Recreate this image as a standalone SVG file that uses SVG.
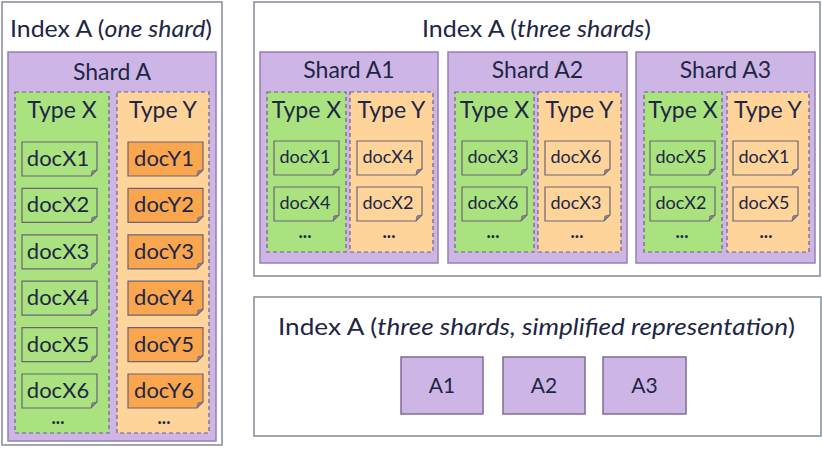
<svg xmlns="http://www.w3.org/2000/svg" xmlns:xlink="http://www.w3.org/1999/xlink" width="822" height="451" viewBox="0 0 822 451">
<style>
.bg{fill:#ffffff}
.panel{fill:#ffffff;stroke:#858a98;stroke-width:1.5}
.shard{fill:#cdb6e6;stroke:#9580b2;stroke-width:1.5}
.colx{fill:#a9e27f;stroke:#6f5f86;stroke-width:1.2;stroke-dasharray:4 3}
.coly{fill:#ffd49a;stroke:#6f5f86;stroke-width:1.2;stroke-dasharray:4 3}
.dg{fill:#a9e27f;stroke:#6b6478;stroke-width:1.2}
.do{fill:#f9a64f;stroke:#6b6478;stroke-width:1.2}
.dl{fill:#ffd49a;stroke:#6b6478;stroke-width:1.2}
.fold{fill:#8d8497;stroke:#6b6478;stroke-width:0.8}
.box{fill:#cdb6e6;stroke:#7e6c98;stroke-width:1.5}
text{font-family:Lato,"Open Sans","DejaVu Sans",sans-serif;fill:#1e2645;text-anchor:middle}
.t{font-size:23px}
.s{font-size:23px}
.ty{font-size:23px}
.dtl{font-size:22px}
.dts{font-size:18px}
.bx{font-size:21px}
.dots{font-size:18px;font-weight:bold}
.it{font-style:italic}
</style>
<defs>
<path id="docL" d="M0,0 H75 V28 L69,34 H0 Z"/>
<path id="foldL" d="M69,34 L70,29 L75,28 Z"/>
<path id="docS" d="M0,0 H65 V28 L59,34 H0 Z"/>
<path id="foldS" d="M59,34 L60,29 L65,28 Z"/>
</defs>
<rect class="bg" x="0" y="0" width="822" height="451"/>

<g id="connectors"></g>

<!-- Left panel: one shard -->
<g id="indexA-one">
<rect class="panel" x="2" y="2" width="220" height="443"/>
<text class="t" x="111" y="37" textLength="202" lengthAdjust="spacingAndGlyphs">Index A (<tspan class="it">one shard</tspan>)</text>
</g>
<g id="shardA">
<rect class="shard" x="8" y="52" width="208" height="389"/>
<text class="s" x="112" y="80">Shard A</text>
</g>
<g id="shardA-typeX">
<rect class="colx" x="15" y="92" width="94" height="341"/>
<text class="ty" x="62" y="118">Type X</text>
<text class="dots" x="58" y="424">...</text>
</g>
<g id="shardA-typeY">
<rect class="coly" x="117" y="92" width="92" height="341"/>
<text class="ty" x="163" y="118">Type Y</text>
<text class="dots" x="164" y="424">...</text>
</g>
<g id="docX1" transform="translate(22,142)"><use href="#docL" class="dg"/><use href="#foldL" class="fold"/><text class="dtl" x="36" y="24">docX1</text></g>
<g id="docX2" transform="translate(22,188.4)"><use href="#docL" class="dg"/><use href="#foldL" class="fold"/><text class="dtl" x="36" y="24">docX2</text></g>
<g id="docX3" transform="translate(22,234.8)"><use href="#docL" class="dg"/><use href="#foldL" class="fold"/><text class="dtl" x="36" y="24">docX3</text></g>
<g id="docX4" transform="translate(22,281.2)"><use href="#docL" class="dg"/><use href="#foldL" class="fold"/><text class="dtl" x="36" y="24">docX4</text></g>
<g id="docX5" transform="translate(22,327.6)"><use href="#docL" class="dg"/><use href="#foldL" class="fold"/><text class="dtl" x="36" y="24">docX5</text></g>
<g id="docX6" transform="translate(22,374)"><use href="#docL" class="dg"/><use href="#foldL" class="fold"/><text class="dtl" x="36" y="24">docX6</text></g>
<g id="docY1" transform="translate(128,142)"><use href="#docL" class="do"/><use href="#foldL" class="fold"/><text class="dtl" x="36" y="24">docY1</text></g>
<g id="docY2" transform="translate(128,188.4)"><use href="#docL" class="do"/><use href="#foldL" class="fold"/><text class="dtl" x="36" y="24">docY2</text></g>
<g id="docY3" transform="translate(128,234.8)"><use href="#docL" class="do"/><use href="#foldL" class="fold"/><text class="dtl" x="36" y="24">docY3</text></g>
<g id="docY4" transform="translate(128,281.2)"><use href="#docL" class="do"/><use href="#foldL" class="fold"/><text class="dtl" x="36" y="24">docY4</text></g>
<g id="docY5" transform="translate(128,327.6)"><use href="#docL" class="do"/><use href="#foldL" class="fold"/><text class="dtl" x="36" y="24">docY5</text></g>
<g id="docY6" transform="translate(128,374)"><use href="#docL" class="do"/><use href="#foldL" class="fold"/><text class="dtl" x="36" y="24">docY6</text></g>

<!-- Right top: three shards -->
<g id="indexA-three">
<rect class="panel" x="254" y="2" width="566" height="274"/>
<text class="t" x="536.5" y="37" textLength="229" lengthAdjust="spacingAndGlyphs">Index A (<tspan class="it">three shards</tspan>)</text>
</g>

<g id="shardA1" transform="translate(260,0)">
<rect class="shard" x="0" y="52" width="178" height="211"/>
<text class="s" x="89" y="78">Shard A1</text>
<rect class="colx" x="7" y="92" width="79" height="160"/>
<text class="ty" x="46.5" y="118">Type X</text>
<rect class="coly" x="90" y="92" width="83" height="160"/>
<text class="ty" x="131.5" y="118">Type Y</text>
<g id="a1-x1" transform="translate(14,141)"><use href="#docS" class="dg"/><use href="#foldS" class="fold"/><text class="dts" x="31" y="22">docX1</text></g>
<g id="a1-x2" transform="translate(14,187)"><use href="#docS" class="dg"/><use href="#foldS" class="fold"/><text class="dts" x="31" y="22">docX4</text></g>
<g id="a1-y1" transform="translate(97,141)"><use href="#docS" class="dl"/><use href="#foldS" class="fold"/><text class="dts" x="31" y="22">docX4</text></g>
<g id="a1-y2" transform="translate(97,187)"><use href="#docS" class="dl"/><use href="#foldS" class="fold"/><text class="dts" x="31" y="22">docX2</text></g>
<text class="dots" x="45" y="238">...</text>
<text class="dots" x="129" y="238">...</text>
</g>

<g id="shardA2" transform="translate(448,0)">
<rect class="shard" x="0" y="52" width="179" height="211"/>
<text class="s" x="89.5" y="78">Shard A2</text>
<rect class="colx" x="7" y="92" width="79" height="160"/>
<text class="ty" x="46.5" y="118">Type X</text>
<rect class="coly" x="90" y="92" width="83" height="160"/>
<text class="ty" x="131.5" y="118">Type Y</text>
<g id="a2-x1" transform="translate(14,141)"><use href="#docS" class="dg"/><use href="#foldS" class="fold"/><text class="dts" x="31" y="22">docX3</text></g>
<g id="a2-x2" transform="translate(14,187)"><use href="#docS" class="dg"/><use href="#foldS" class="fold"/><text class="dts" x="31" y="22">docX6</text></g>
<g id="a2-y1" transform="translate(97,141)"><use href="#docS" class="dl"/><use href="#foldS" class="fold"/><text class="dts" x="31" y="22">docX6</text></g>
<g id="a2-y2" transform="translate(97,187)"><use href="#docS" class="dl"/><use href="#foldS" class="fold"/><text class="dts" x="31" y="22">docX3</text></g>
<text class="dots" x="45" y="238">...</text>
<text class="dots" x="129" y="238">...</text>
</g>

<g id="shardA3" transform="translate(636,0)">
<rect class="shard" x="0" y="52" width="179" height="211"/>
<text class="s" x="89.5" y="78">Shard A3</text>
<rect class="colx" x="8" y="92" width="78" height="160"/>
<text class="ty" x="47" y="118">Type X</text>
<rect class="coly" x="91" y="92" width="82" height="160"/>
<text class="ty" x="132" y="118">Type Y</text>
<g id="a3-x1" transform="translate(14,141)"><use href="#docS" class="dg"/><use href="#foldS" class="fold"/><text class="dts" x="31" y="22">docX5</text></g>
<g id="a3-x2" transform="translate(14,187)"><use href="#docS" class="dg"/><use href="#foldS" class="fold"/><text class="dts" x="31" y="22">docX2</text></g>
<g id="a3-y1" transform="translate(97,141)"><use href="#docS" class="dl"/><use href="#foldS" class="fold"/><text class="dts" x="31" y="22">docX1</text></g>
<g id="a3-y2" transform="translate(97,187)"><use href="#docS" class="dl"/><use href="#foldS" class="fold"/><text class="dts" x="31" y="22">docX5</text></g>
<text class="dots" x="46" y="238">...</text>
<text class="dots" x="130" y="238">...</text>
</g>

<!-- Bottom: simplified -->
<g id="indexA-simplified">
<rect class="panel" x="254" y="297" width="567" height="139"/>
<text class="t" x="536.5" y="335" textLength="517" lengthAdjust="spacingAndGlyphs">Index A (<tspan class="it">three shards, simplified representation</tspan>)</text>
</g>
<g id="boxA1"><rect class="box" x="401" y="357" width="82" height="57"/><text class="bx" x="442" y="393">A1</text></g>
<g id="boxA2"><rect class="box" x="503" y="357" width="82" height="57"/><text class="bx" x="544" y="393">A2</text></g>
<g id="boxA3"><rect class="box" x="603" y="357" width="83" height="57"/><text class="bx" x="644.5" y="393">A3</text></g>
</svg>
